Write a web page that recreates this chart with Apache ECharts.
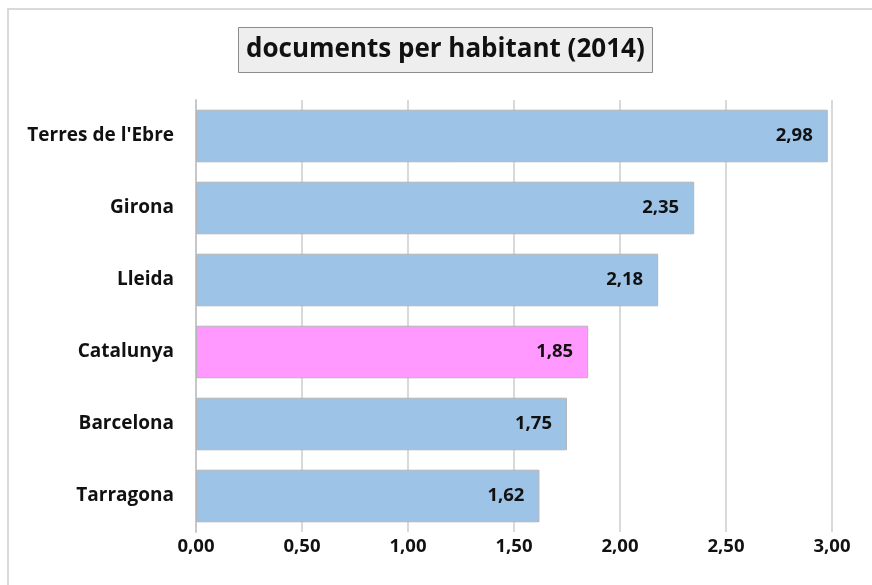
<!DOCTYPE html>
<html>
<head>
<meta charset="utf-8">
<script src="https://cdn.jsdelivr.net/npm/echarts@6/dist/echarts.min.js"></script>
<style>
html,body{margin:0;padding:0;background:#fff;}
#c{width:872px;height:585px;}
</style>
</head>
<body>
<div id="c"></div>
<script>
const categories = ["Terres de l'Ebre", "Girona", "Lleida", "Catalunya", "Barcelona", "Tarragona"];
const values = [2.98, 2.35, 2.18, 1.85, 1.75, 1.62];
const highlight = "Catalunya";
const titleText = "documents per habitant (2014)";
const fmt = v => v.toFixed(2).replace('.', ',');

const chart = echarts.init(document.getElementById('c'));
const FONT = '"Open Sans", "Noto Sans", sans-serif';
chart.setOption({
  animation: false,
  backgroundColor: '#fff',
  title: {
    text: titleText,
    left: 238,
    top: 27,
    padding: [6, 8, 6, 8],
    backgroundColor: '#eeeeee',
    borderColor: '#8c8c8c',
    borderWidth: 1,
    textStyle: { fontFamily: FONT, fontWeight: 'bold', fontSize: 26, color: '#111', lineHeight: 34 }
  },
  graphic: [{
    type: 'rect', shape: { x: 8, y: 9, width: 880, height: 600 },
    style: { fill: 'none', stroke: '#d9d9d9', lineWidth: 2 }, silent: true, z: -1
  }],
  grid: { left: 196, right: 40, top: 100, bottom: 53, containLabel: false },
  xAxis: {
    type: 'value', min: 0, max: 3, interval: 0.5,
    axisLine: { show: false }, axisTick: { show: false },
    splitLine: { lineStyle: { color: '#d9d9d9', width: 2 } },
    axisLabel: { formatter: v => fmt(v), margin: 5, fontFamily: FONT, fontWeight: 'bold', fontSize: 18.5, color: '#111' }
  },
  yAxis: {
    type: 'category', data: categories, inverse: true,
    axisLine: { show: true, lineStyle: { color: '#c8c8c8', width: 2 } },
    axisTick: { show: false },
    axisLabel: { margin: 22, fontFamily: FONT, fontWeight: 'bold', fontSize: 19, color: '#111' }
  },
  series: [{
    type: 'bar',
    barCategoryGap: '27%',
    data: values.map((v, i) => ({
      value: v,
      itemStyle: { color: categories[i] === highlight ? '#ff99ff' : '#9dc3e6', borderColor: '#b4b4b4', borderWidth: 1 }
    })),
    label: {
      show: true, position: 'insideRight', distance: 15,
      formatter: p => fmt(p.value),
      fontFamily: FONT, fontWeight: 'bold', fontSize: 18.5, color: '#111'
    }
  }]
});
</script>
</body>
</html>
